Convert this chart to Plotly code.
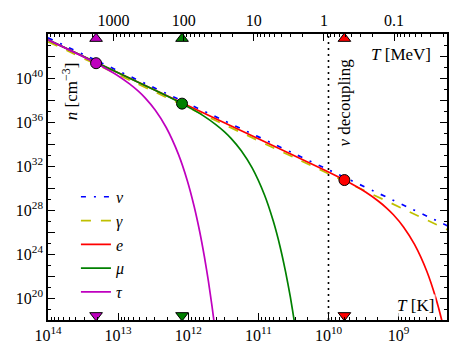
import math
import plotly.graph_objects as go

# ---------------- data ----------------
K_PER_MEV = 1.16045e10          # 1 MeV in kelvin
T_DEC = 1e10                    # neutrino decoupling temperature [K]

species = ["ν", "γ", "e", "μ", "τ"]

T_nu = [1e14, 1e12, 1e10, 2e8]
n_nu = [4.5e43, 4.5e37, 4.5e31, 3.6e26]

T_gamma = [1e14, 1e12, 1e10, 2e8]
n_gamma = [2.0e43, 2.0e37, 2.0e31, 1.6e26]

T_e = [1e14, 1e11, 1.186e10, 5.93e9, 3.95e9, 2.965e9, 1.977e9, 1.483e9,
       1.186e9, 8.47e8, 5.93e8, 3.95e8, 2.965e8, 2.37e8, 1.977e8]
n_e = [3.02e43, 3.02e34, 4.81e31, 5.28e30, 1.29e30, 4.30e29, 6.97e28, 1.51e28,
       3.70e27, 2.77e26, 7.52e24, 2.60e22, 1.10e20, 5.22e17, 2.63e15]

T_mu = [1e14, 1e13, 2.452e12, 1.226e12, 8.17e11, 6.13e11, 4.087e11, 3.065e11,
        2.452e11, 1.752e11, 1.226e11, 8.17e10, 6.13e10, 4.90e10, 4.09e10,
        3.50e10, 3.065e10, 2.725e10]
n_mu = [3.02e43, 3.02e40, 4.26e38, 4.68e37, 1.14e37, 3.80e36, 6.15e35, 1.34e35,
        3.27e34, 2.44e33, 6.65e31, 2.30e29, 9.77e26, 4.62e24, 2.34e22,
        1.24e20, 6.81e17, 3.8e15]

T_tau = [1e14, 4.124e13, 2.062e13, 1.375e13, 1.031e13, 6.873e12, 5.155e12,
         4.124e12, 2.946e12, 2.062e12, 1.375e12, 1.031e12, 8.248e11, 6.873e11,
         5.891e11, 5.155e11, 4.582e11, 4.124e11]
n_tau = [3.02e43, 2.02e42, 2.22e41, 5.45e40, 1.81e40, 2.93e39, 6.35e38,
         1.56e38, 1.16e37, 3.16e35, 1.09e33, 4.65e30, 2.20e28, 1.11e26,
         5.90e23, 3.24e21, 1.82e19, 1.04e17]

# particle masses (MeV): tau, mu, e and the density at T = m
mass_MeV = [1776.86, 105.66, 0.511]
n_at_mass = [2.22e41, 4.68e37, 5.28e30]

# axis tick labels
x_tick_vals = [1e14, 1e13, 1e12, 1e11, 1e10, 1e9]
x_tick_text = ["10<sup>14</sup>", "10<sup>13</sup>", "10<sup>12</sup>",
               "10<sup>11</sup>", "10<sup>10</sup>", "10<sup>9</sup>"]
top_tick_vals = [1000, 100, 10, 1, 0.1]
top_tick_text = ["1000", "100", "10", "1", "0.1"]
y_label_exps = [20, 24, 28, 32, 36, 40]

# ---------------- styling ----------------
C_NU, C_GA, C_E, C_MU, C_TAU = "#0000ff", "#bfbf00", "#ff0000", "#008000", "#bf00bf"
mass_colors = [C_TAU, C_MU, C_E]
FONT = "Liberation Serif"
LW = 1.7

X_LOG_MIN, X_LOG_MAX = 8.31, 14.0
Y_LOG_MIN, Y_LOG_MAX = 18.0, 44.0

# page body adds an 8px margin; compensate in the figure size/margins
PAGE_OFF = 8

fig = go.Figure()

series = [
    (T_nu, n_nu, C_NU, "5px,8px,2px,8px", "<i>ν</i>"),
    (T_gamma, n_gamma, C_GA, "10px,10px", "<i>γ</i>"),
    (T_e, n_e, C_E, "solid", "<i>e</i>"),
    (T_mu, n_mu, C_MU, "solid", "<i>μ</i>"),
    (T_tau, n_tau, C_TAU, "solid", "<i>τ</i>"),
]
for i, (xs, ys, col, dash, name) in enumerate(series):
    fig.add_trace(go.Scatter(
        x=xs, y=ys, mode="lines", name=name,
        line=dict(color=col, width=LW, dash=dash, shape="spline", smoothing=0.6),
    ))

# decoupling line
fig.add_trace(go.Scatter(
    x=[T_DEC, T_DEC], y=[10 ** Y_LOG_MIN, 10 ** Y_LOG_MAX], mode="lines",
    line=dict(color="black", width=1.6, dash="2px,4px"), showlegend=False,
))

# dots at T = m
mass_K = [m * K_PER_MEV for m in mass_MeV]
fig.add_trace(go.Scatter(
    x=mass_K, y=n_at_mass, mode="markers", showlegend=False,
    marker=dict(size=11, color=mass_colors, line=dict(color="black", width=1)),
))

# triangles on top (MeV axis) and bottom (K axis)
fig.add_trace(go.Scatter(
    x=mass_MeV, y=[0.984] * 3, xaxis="x2", yaxis="y2", mode="markers",
    showlegend=False, cliponaxis=False,
    marker=dict(symbol="triangle-up", size=11, color=mass_colors,
                line=dict(color="black", width=1)),
))
fig.add_trace(go.Scatter(
    x=mass_K, y=[0.016] * 3, xaxis="x", yaxis="y2", mode="markers",
    showlegend=False, cliponaxis=False,
    marker=dict(symbol="triangle-down", size=11, color=mass_colors,
                line=dict(color="black", width=1)),
))

# ticks
x_minor = [j * 10 ** k for k in range(8, 14) for j in range(2, 10)
           if X_LOG_MIN <= math.log10(j * 10 ** k) <= X_LOG_MAX]
mev_lo = X_LOG_MIN - math.log10(K_PER_MEV)
mev_hi = X_LOG_MAX - math.log10(K_PER_MEV)
top_minor = [j * 10.0 ** k for k in range(-2, 4) for j in range(2, 10)
             if mev_lo <= math.log10(j * 10.0 ** k) <= mev_hi]
y_major = [10.0 ** e for e in range(18, 45, 2)]
y_text = [("10<sup>%d</sup>" % e) if e in y_label_exps else "" for e in range(18, 45, 2)]
y_minor = [10.0 ** e for e in range(19, 44, 2)]

tickfont = dict(family=FONT, size=16, color="black")

fig.update_layout(
    width=458 - PAGE_OFF, height=355 - PAGE_OFF,
    margin=dict(l=48 - PAGE_OFF, r=11, t=34 - PAGE_OFF, b=35, autoexpand=False),
    paper_bgcolor="white", plot_bgcolor="white",
    font=dict(family=FONT, size=16, color="black"),
    xaxis=dict(
        type="log", range=[X_LOG_MAX, X_LOG_MIN], automargin=False,
        showline=True, linecolor="black", linewidth=1.5, mirror=False,
        ticks="inside", ticklen=7, tickwidth=1, tickcolor="black",
        tickmode="array", tickvals=x_tick_vals, ticktext=x_tick_text,
        tickfont=tickfont, showgrid=False, zeroline=False,
        minor=dict(tickmode="array", tickvals=x_minor, ticks="inside",
                   ticklen=3.5, tickwidth=1, tickcolor="black", showgrid=False),
    ),
    xaxis2=dict(
        type="log", range=[mev_hi, mev_lo], overlaying="x", side="top",
        anchor="y", automargin=False, showline=True, linecolor="black", linewidth=1.5,
        ticks="inside", ticklen=7, tickwidth=1, tickcolor="black",
        tickmode="array", tickvals=top_tick_vals, ticktext=top_tick_text,
        tickfont=tickfont, showgrid=False, zeroline=False,
        minor=dict(tickmode="array", tickvals=top_minor, ticks="inside",
                   ticklen=3.5, tickwidth=1, tickcolor="black", showgrid=False),
    ),
    yaxis=dict(
        type="log", range=[Y_LOG_MIN, Y_LOG_MAX], automargin=False,
        showline=True, linecolor="black", linewidth=1.5, mirror="allticks",
        ticks="inside", ticklen=7, tickwidth=1, tickcolor="black",
        tickmode="array", tickvals=y_major, ticktext=y_text,
        tickfont=tickfont, showgrid=False, zeroline=False,
        minor=dict(tickmode="array", tickvals=y_minor, ticks="inside",
                   ticklen=3.5, tickwidth=1, tickcolor="black", showgrid=False),
    ),
    yaxis2=dict(range=[0, 1], overlaying="y", visible=False),
    legend=dict(
        x=0.07, y=0.49, xanchor="left", yanchor="top",
        bgcolor="rgba(0,0,0,0)", borderwidth=0,
        font=dict(family=FONT, size=16, color="black"),
    ),
    showlegend=True,
)

ann_font = dict(family=FONT, size=17, color="black")
fig.add_annotation(text="<i>n</i> [cm<sup>−3</sup>]", xref="paper", yref="paper",
                   x=0.055, y=0.80, textangle=-90, showarrow=False,
                   xanchor="center", yanchor="middle", font=ann_font)
fig.add_annotation(text="<i>ν</i> decoupling", xref="paper", yref="paper",
                   x=0.744, y=0.76, textangle=-90, showarrow=False,
                   xanchor="center", yanchor="middle", font=ann_font)
fig.add_annotation(text="<i>T</i> [MeV]", xref="paper", yref="paper",
                   x=0.885, y=0.93, showarrow=False,
                   xanchor="center", yanchor="middle", font=ann_font)
fig.add_annotation(text="<i>T</i> [K]", xref="paper", yref="paper",
                   x=0.92, y=0.052, showarrow=False,
                   xanchor="center", yanchor="middle",
                   bgcolor="rgba(255,255,255,0.75)", font=ann_font)

fig.write_html("out.html")
